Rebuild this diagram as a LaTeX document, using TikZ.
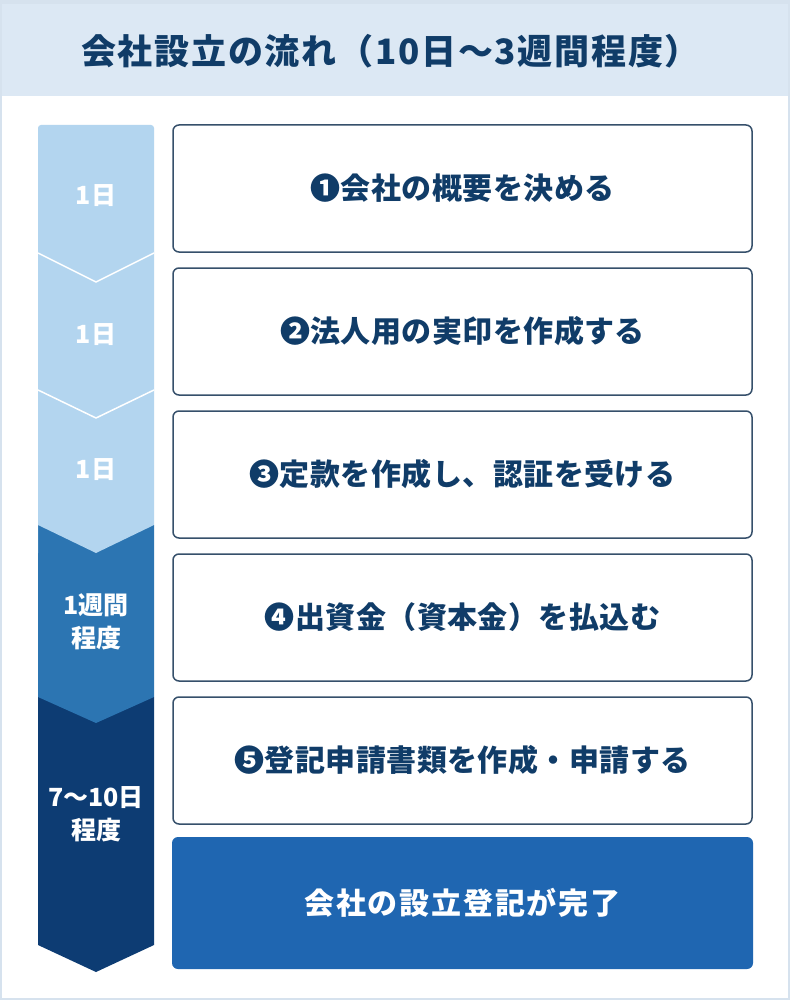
\documentclass[tikz,border=0pt]{standalone}
\usepackage{fontspec}
\newfontfamily\jp{Noto Sans CJK JP}
\definecolor{framec}{HTML}{D6E2EE}
\definecolor{headc}{HTML}{DCE8F4}
\definecolor{navytext}{HTML}{103C68}
\definecolor{boxline}{HTML}{36506B}
\definecolor{chevlight}{HTML}{B3D5EF}
\definecolor{chevmid}{HTML}{2C75B2}
\definecolor{chevdark}{HTML}{0D3C73}
\definecolor{finalc}{HTML}{1F66B1}
\begin{document}
\begin{tikzpicture}[x=1pt,y=-1pt,
  stepbox/.style={draw=boxline, line width=1.5pt, fill=white, rounded corners=6pt,
    minimum width=579pt, minimum height=127pt, inner sep=0pt,
    text=navytext, font=\jp\bfseries\fontsize{30}{36}\selectfont\addfontfeature{LetterSpace=1.5}},
  finalbox/.style={fill=finalc, rounded corners=6pt, minimum width=581pt, minimum height=132pt,
    inner sep=0pt, text=white, font=\jp\bfseries\fontsize{30}{36}\selectfont\addfontfeature{LetterSpace=6}},
  chevlabel/.style={text=white, align=center, inner sep=0pt,
    font=\jp\bfseries\fontsize{25}{33}\selectfont},
  notch/.style={draw=white, line width=1.5pt},
  title/.style={text=navytext, anchor=west, inner sep=0pt,
    font=\jp\bfseries\fontsize{35}{40}\selectfont\addfontfeature{LetterSpace=5}}]
\useasboundingbox (0,0) rectangle (790,1000);
% frame and header band
\fill[framec] (0,0) rectangle (790,1000);
\fill[white] (2,96) rectangle (788,998);
\fill[headc] (2,4) rectangle (788,96);
\node[title] (title) at (81,51) {会社設立の流れ（10日〜3週間程度）};
% chevron column
\fill[chevdark] (38,697) -- (154,697) -- (154,945) -- (96,972) -- (38,945) -- cycle;
\fill[chevmid] (38,525) -- (154,525) -- (154,697) -- (96,723) -- (38,697) -- cycle;
\fill[chevlight, rounded corners=3pt] (38,553) -- (38,125) -- (154,125) -- (154,400) [sharp corners] -- (154,525) -- (96,553) -- (38,525) -- cycle;
\draw[notch] (38,253) -- (96,282) -- (154,253);
\draw[notch] (38,390) -- (96,418) -- (154,390);
\node[chevlabel] (d1) at (96,196) {1日};
\node[chevlabel] (d2) at (96,335) {1日};
\node[chevlabel] (d3) at (96,470) {1日};
\node[chevlabel] (d4) at (96,622) {1週間\\程度};
\node[chevlabel] (d5) at (96,814) {7〜10日\\程度};
% step boxes
\node[stepbox] (s1) at (462.5,188.5) {❶会社の概要を決める};
\node[stepbox] (s2) at (462.5,331.5) {❷法人用の実印を作成する};
\node[stepbox] (s3) at (462.5,474.5) {❸定款を作成し、認証を受ける};
\node[stepbox] (s4) at (462.5,617.5) {❹出資金（資本金）を払込む};
\node[stepbox] (s5) at (462.5,760.5) {❺登記申請書類を作成・申請する};
\node[finalbox] (fin) at (462.5,903) {会社の設立登記が完了};
\end{tikzpicture}
\end{document}
